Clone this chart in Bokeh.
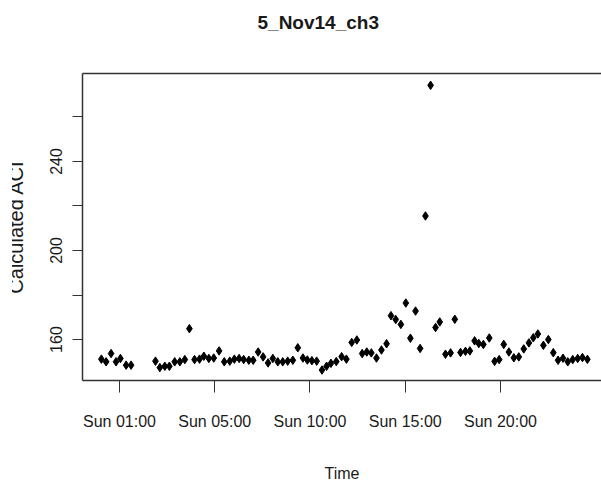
from bokeh.plotting import figure
from bokeh.models import FixedTicker, LinearAxis, Range1d
from bokeh.embed import file_html
from bokeh.resources import INLINE

# Sampling times in hours since Sunday 00:00 and the computed ACI at each time
hours = [
    -0.95, -0.70, -0.44, -0.18, 0.05, 0.35, 0.61,
    1.89, 2.12, 2.38, 2.62, 2.90, 3.17, 3.43, 3.67, 3.94,
    4.20, 4.43, 4.69, 4.95, 5.23, 5.50, 5.79, 6.03, 6.28, 6.52, 6.79,
    7.02, 7.28, 7.54, 7.80, 8.05, 8.31, 8.57, 8.83, 9.10, 9.36, 9.63, 9.86,
    10.10, 10.35, 10.63, 10.87, 11.10, 11.38, 11.66, 11.91, 12.19, 12.46,
    12.74, 12.98, 13.22, 13.49, 13.75, 14.02, 14.25, 14.50, 14.77, 15.03,
    15.27, 15.54, 15.78, 16.06, 16.33, 16.59, 16.81, 17.11, 17.38, 17.60,
    17.90, 18.16, 18.39, 18.64, 18.86, 19.10, 19.41, 19.69, 19.93, 20.17,
    20.44, 20.70, 20.96, 21.22, 21.49, 21.72, 21.96, 22.25, 22.51, 22.77,
    23.02, 23.28, 23.53, 23.79, 24.05, 24.30, 24.56,
]
aci = [
    151.2, 150.0, 153.7, 150.0, 151.5, 148.5, 148.5,
    150.3, 147.4, 148.0, 148.0, 150.0, 150.0, 151.0, 164.9, 151.0,
    151.2, 152.5, 151.5, 151.7, 154.9, 150.0, 150.3, 151.2, 151.5, 151.0, 150.7,
    150.7, 154.4, 152.2, 149.5, 151.5, 150.0, 150.0, 150.3, 150.7, 156.3, 151.7, 150.8,
    150.5, 150.3, 146.3, 148.0, 149.3, 150.1, 152.3, 151.2, 158.7, 159.8,
    153.7, 154.4, 154.0, 151.7, 155.3, 158.1, 170.7, 169.0, 166.8, 176.4,
    160.6, 172.8, 156.0, 215.5, 274.2, 165.4, 167.9, 153.4, 154.0, 169.1,
    154.2, 154.7, 154.9, 159.4, 158.2, 157.8, 160.7, 150.2, 151.0, 157.8,
    154.4, 151.8, 152.2, 155.8, 158.5, 160.8, 162.5, 157.4, 160.0, 154.1,
    150.7, 151.6, 150.0, 151.0, 151.5, 151.9, 151.1,
]

x_ticks = [0, 5, 10, 15, 20]
x_tick_labels = ["Sun 01:00", "Sun 05:00", "Sun 10:00", "Sun 15:00", "Sun 20:00"]
y_ticks = [160, 180, 200, 220, 240, 260]
y_tick_labels = ["160", "", "200", "", "240", ""]

FONT = "Liberation Sans"
INK = "#1a1a1a"
AXIS = "#333333"

X0, X1 = -1.94, 25.3
Y0, Y1 = 141.6, 279.5

p = figure(
    width=601, height=484,
    x_range=Range1d(X0, X1), y_range=Range1d(Y0, Y1),
    output_backend="svg", toolbar_location=None,
    min_border_left=82, min_border_right=0,
    min_border_top=73, min_border_bottom=104,
    x_axis_label="Time", y_axis_label="Calculated ACI",
)
# the page shows the plot with its left strip trimmed off
p.styles = {"clip-path": "inset(0px 0px 0px 12px)"}
p.outline_line_color = None
p.xgrid.visible = False
p.ygrid.visible = False
p.background_fill_color = "white"
p.border_fill_color = "white"

# bottom x axis: labelled hours
xa = p.below[0]
xa.ticker = FixedTicker(ticks=x_ticks)
xa.major_label_overrides = dict(zip(x_ticks, x_tick_labels))
xa.minor_tick_line_color = None
xa.major_tick_out = 12
xa.major_tick_in = 0
xa.major_label_standoff = 20
xa.major_label_text_font = FONT
xa.major_label_text_font_size = "16px"
xa.major_label_text_color = INK
xa.axis_label_text_font = FONT
xa.axis_label_text_font_size = "16px"
xa.axis_label_text_font_style = "normal"
xa.axis_label_text_color = INK
xa.axis_label_standoff = 32
xa.axis_line_color = AXIS
xa.axis_line_width = 1.5
xa.major_tick_line_color = AXIS

# y axis: ACI
ya = p.left[0]
ya.ticker = FixedTicker(ticks=y_ticks)
ya.major_label_overrides = dict(zip(y_ticks, y_tick_labels))
ya.major_label_orientation = "vertical"
ya.minor_tick_line_color = None
ya.major_tick_out = 10
ya.major_tick_in = 0
ya.major_label_standoff = 10
ya.major_label_text_font = FONT
ya.major_label_text_font_size = "16px"
ya.major_label_text_color = INK
ya.axis_label_text_font = FONT
ya.axis_label_text_font_size = "20px"
ya.axis_label_text_font_style = "normal"
ya.axis_label_text_color = INK
ya.axis_label_standoff = 21
ya.axis_line_color = AXIS
ya.axis_line_width = 1.5
ya.major_tick_line_color = AXIS

# top edge of the plotting box; its invisible ticks reserve the gap below the title
top = LinearAxis(
    ticker=FixedTicker(ticks=x_ticks),
    major_label_overrides={t: "" for t in x_ticks},
    major_tick_out=41, major_tick_in=0, major_label_standoff=0,
    major_tick_line_color=None, minor_tick_line_color=None,
    major_label_text_font_size="0px",
    axis_line_color=AXIS, axis_line_width=1.5,
)
p.add_layout(top, "above")

p.title.text = "5_Nov14_ch3"
p.title.text_font = FONT
p.title.text_font_size = "19px"
p.title.text_font_style = "bold"
p.title.text_color = INK
p.title.align = "left"
p.title.vertical_align = "bottom"
p.title.offset = 175
p.title.standoff = 0

p.scatter(hours, aci, marker="diamond", size=8.5, color="black")

open("out.html", "w").write(file_html(p, INLINE))
